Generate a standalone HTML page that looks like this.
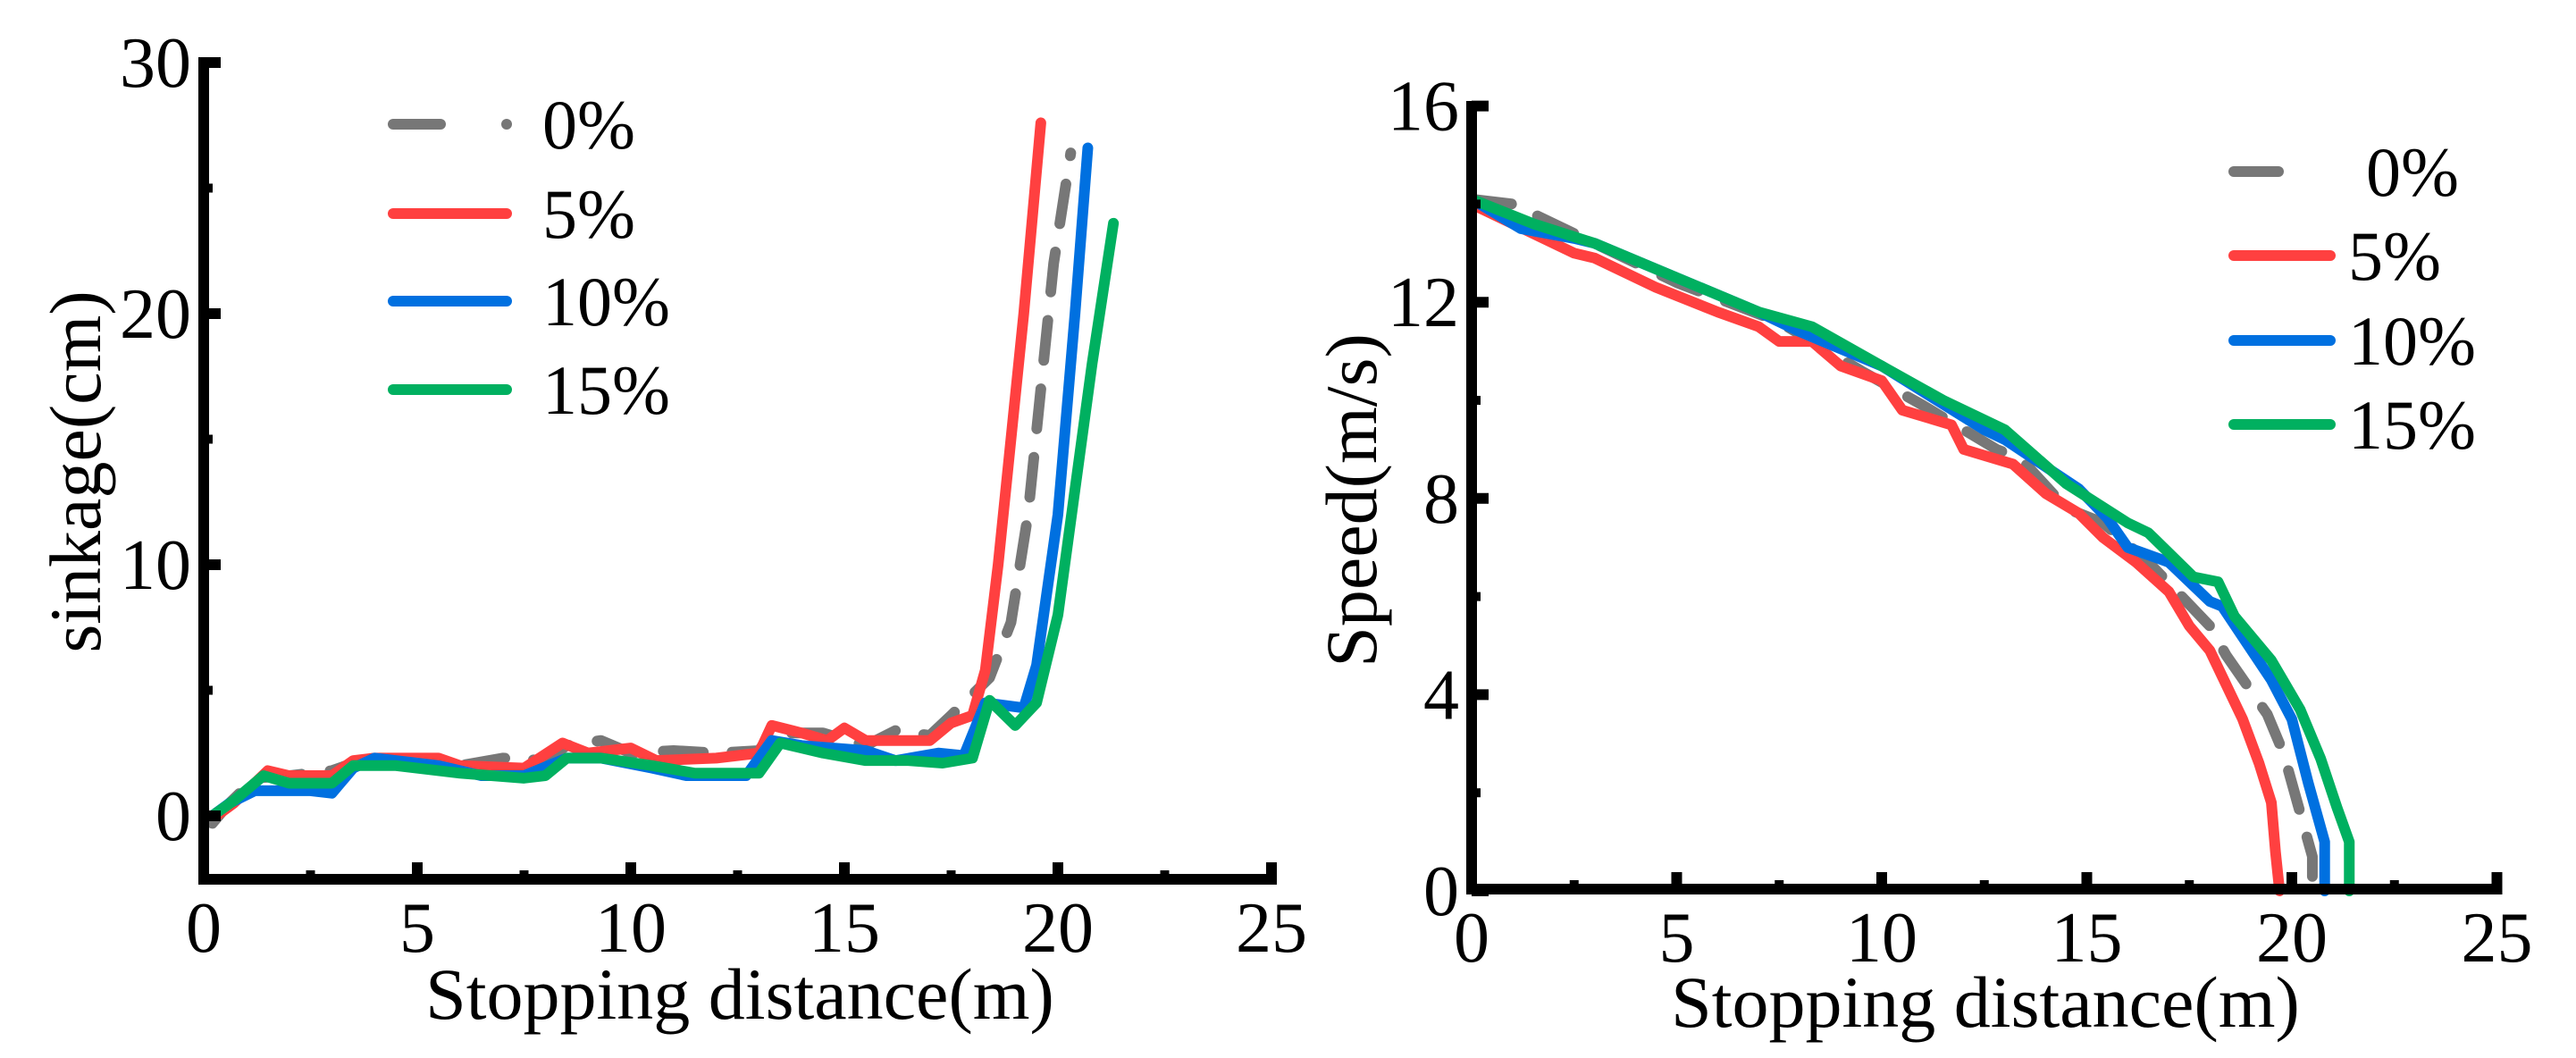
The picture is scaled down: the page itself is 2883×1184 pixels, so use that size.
<!DOCTYPE html>
<html><head><meta charset="utf-8"><style>
html,body{margin:0;padding:0;background:#fff;}
svg{display:block;}
svg text{font-family:"Liberation Serif","Noto Serif CJK SC","DejaVu Serif",serif;}
</style></head><body>
<svg id="fig" width="2883" height="1184" viewBox="0 0 2883 1184" xmlns="http://www.w3.org/2000/svg">
<g id="left"></g>
<g id="right"></g>
</svg>
<script>
const seriesNames = ["0%","5%","10%","15%"];
const seriesColors = ["#777777","#ff4040","#0070e0","#00b060"];
const xTicks = [0,5,10,15,20,25];
const sinkTicks = [0,10,20,30];
const speedTicks = [0,4,8,12,16];

const sinkX0 = [0.2,0.6,1.2,2,3,3.5,4,5,6,7,8,8.5,9.3,10,11,12,13,13.3,14.5,15.5,16.2,17,17.5,18.4,18.9,19.3,19.6,19.9,20.3];
const sinkY0 = [-0.3,0.5,1.5,1.6,1.8,2.1,2.3,2.1,2.0,2.3,2.2,2.8,3.0,2.5,2.6,2.5,2.6,3.3,3.3,2.8,3.4,3.2,4.0,5.5,7.7,12.0,17,22,26.4];
const sinkX5 = [0.3,0.7,1.5,2,3,3.5,4,5.5,6,7.5,8.4,9,10,10.6,12,13,13.3,14,14.6,15,15.5,17,17.5,18,18.3,18.6,19.2,19.6];
const sinkY5 = [0,0.5,1.8,1.6,1.6,2.2,2.3,2.3,2.0,1.9,2.9,2.5,2.7,2.2,2.3,2.5,3.6,3.3,3.0,3.5,3.0,3.0,3.7,4.0,5.8,10,20,27.6];
const sinkX10 = [0.2,0.6,1.2,2.5,3,3.5,4,5.5,6.5,7.5,8.5,9.3,10.5,11.3,12.7,13.3,14,15.5,16.2,17.2,17.8,18.3,19.2,19.5,20.0,20.4,20.7];
const sinkY10 = [0,0.5,1.0,1.0,0.9,1.9,2.3,2.0,1.6,1.6,2.3,2.3,1.9,1.6,1.6,3.0,2.8,2.6,2.2,2.5,2.4,4.5,4.3,6.0,12,20,26.6];
const sinkX15 = [0.2,0.7,1.4,2,3,3.5,4.5,6,7.5,8,8.5,9.3,10.5,11.5,13,13.5,14.5,15.5,16.5,17.3,18,18.4,19,19.5,20.0,20.4,20.8,21.3];
const sinkY15 = [0,0.6,1.6,1.3,1.3,2.0,2.0,1.7,1.5,1.6,2.3,2.3,2.0,1.7,1.7,2.9,2.5,2.2,2.2,2.1,2.3,4.6,3.6,4.5,8.0,13,18,23.6];

const spdX0 = [0,1,2.5,5,7.5,9.5,11,12.8,13.4,14.5,15.4,16.5,17.2,18,18.4,19.4,19.8,20.2,20.5,20.5];
const spdY0 = [14.1,14.0,13.4,12.4,11.6,10.6,9.9,9.0,8.8,7.8,7.5,6.7,6.1,5.4,4.8,3.6,2.8,1.6,0.7,0];
const spdX5 = [0,1,2.5,3,4.5,6,7,7.5,8.3,9,10,10.5,11.7,12,13.2,14,14.8,15.4,16.2,17,17.5,18,18.4,18.8,19.2,19.5,19.6,19.7];
const spdY5 = [14.0,13.6,13.0,12.9,12.3,11.8,11.5,11.2,11.2,10.7,10.4,9.8,9.5,9.0,8.7,8.1,7.7,7.2,6.7,6.1,5.4,4.9,4.2,3.5,2.6,1.8,0.8,0];
const spdX10 = [0,1.2,2.5,3,5,7,8,10,12.5,13,14.8,15.5,16,17,18,18.3,19.5,20,20.4,20.8,20.8];
const spdY10 = [14.1,13.5,13.3,13.2,12.5,11.8,11.4,10.7,9.4,9.2,8.2,7.6,7.0,6.7,5.9,5.8,4.3,3.5,2.2,1.0,0];
const spdX15 = [0,1.5,3,5,7,8.3,10,11.5,13,14.5,16,16.5,17.6,18.2,18.6,19.5,20.2,20.7,21.1,21.4,21.4];
const spdY15 = [14.1,13.6,13.2,12.5,11.8,11.5,10.7,10.0,9.4,8.3,7.5,7.3,6.4,6.3,5.6,4.7,3.7,2.7,1.7,1.0,0];

const NS="http://www.w3.org/2000/svg";
const FONT='"Liberation Serif","Noto Serif CJK SC","DejaVu Serif",serif';
function mk(parent,tag,attrs){const e=document.createElementNS(NS,tag);for(const k in attrs)e.setAttribute(k,attrs[k]);if(tag==='text')e.setAttribute('font-family',FONT);parent.appendChild(e);return e;}

function drawChart(g, cfg){
  const sx=v=>cfg.x0+v*cfg.xu, sy=v=>cfg.y0-v*cfg.yu;
  cfg.series.forEach((s,i)=>{
    const p=mk(g,'polyline',{points:s.x.map((v,j)=>sx(v)+','+sy(s.y[j])).join(' '),fill:'none',stroke:seriesColors[i],'stroke-width':12,'stroke-linejoin':'round','stroke-linecap':'round'});
    if(i===0){p.setAttribute('stroke-dasharray','45 32');}
    
    
  });
  const ya=mk(g,'line',{x1:cfg.x0,y1:cfg.yTop,x2:cfg.x0,y2:cfg.xAxisY+6,stroke:'#000','stroke-width':12});
  
  
  const xa=mk(g,'line',{x1:cfg.x0-6,y1:cfg.xAxisY,x2:sx(25)+6,y2:cfg.xAxisY,stroke:'#000','stroke-width':12});
  
  
  xTicks.forEach(t=>{
    if(t>0){const tk=mk(g,'line',{x1:sx(t),y1:cfg.xAxisY,x2:sx(t),y2:cfg.xAxisY-19,stroke:'#000','stroke-width':12});
      
      }
    if(t<25){const mt=mk(g,'line',{x1:sx(t+2.5),y1:cfg.xAxisY,x2:sx(t+2.5),y2:cfg.xAxisY-10,stroke:'#000','stroke-width':10});
      
      }
    const tl=mk(g,'text',{x:sx(t),y:cfg.xLabY,'font-size':80,'text-anchor':'middle'});tl.textContent=t;
    
    
  });
  cfg.yTicks.forEach((t,k)=>{
    const tk=mk(g,'line',{x1:cfg.x0,y1:sy(t),x2:cfg.x0+19,y2:sy(t),stroke:'#000','stroke-width':12});
    
    
    if(k<cfg.yTicks.length-1){const m=(t+cfg.yTicks[k+1])/2;
      const mt=mk(g,'line',{x1:cfg.x0,y1:sy(m),x2:cfg.x0+10,y2:sy(m),stroke:'#000','stroke-width':10});
      
      }
    const tl=mk(g,'text',{x:cfg.x0-14,y:sy(t)+27,'font-size':80,'text-anchor':'end'});tl.textContent=t;
    
    
  });
  const xt=mk(g,'text',{x:cfg.xTitleX,y:cfg.xTitleY,'font-size':82,'text-anchor':'middle'});xt.textContent='Stopping distance(m)';
  
  
  const yt=mk(g,'text',{x:0,y:0,'font-size':82,'text-anchor':'middle',transform:`translate(${cfg.yTitleX},${cfg.yTitleY}) rotate(-90)`});yt.textContent=cfg.yTitle;
  
  
  seriesNames.forEach((n,i)=>{
    const ly=cfg.legY[i];
    const lg=mk(g,'g',{});
    
    
    if(i===0){
      mk(lg,'line',{x1:cfg.legX1,y1:ly,x2:cfg.legDashEnd,y2:ly,stroke:seriesColors[0],'stroke-width':12,'stroke-linecap':'round'});
      if(cfg.legDot) mk(lg,'circle',{cx:cfg.legX2,cy:ly,r:6,fill:seriesColors[0]});
    } else {
      mk(lg,'line',{x1:cfg.legX1,y1:ly,x2:cfg.legX2,y2:ly,stroke:seriesColors[i],'stroke-width':12,'stroke-linecap':'round'});
    }
    const tx=mk(lg,'text',{x:cfg.legTX+(i===0?cfg.leg0Shift:0),y:ly+27,'font-size':78});tx.textContent=n;
  });
}

drawChart(document.getElementById('left'),{
  x0:228,xu:47.8,y0:913,yu:28.1,yTop:64,xAxisY:984,xLabY:1065,yTicks:sinkTicks,
  xTitleX:828,xTitleY:1140,yTitleX:112,yTitleY:528,yTitle:'sinkage(cm)',
  legX1:440,legX2:567,legDashEnd:493,legDot:true,legTX:607,leg0Shift:0,legY:[139,239,337,436],
  series:[{x:sinkX0,y:sinkY0},{x:sinkX5,y:sinkY5},{x:sinkX10,y:sinkY10},{x:sinkX15,y:sinkY15}]
});
drawChart(document.getElementById('right'),{
  x0:1647,xu:45.9,y0:997,yu:54.9,yTop:113,xAxisY:995,xLabY:1076,yTicks:speedTicks,
  xTitleX:2222,xTitleY:1149,yTitleX:1540,yTitleY:560,yTitle:'Speed(m/s)',
  legX1:2500,legX2:2608,legDashEnd:2550,legDot:false,legTX:2628,leg0Shift:20,legY:[192,286,381,475],
  series:[{x:spdX0,y:spdY0},{x:spdX5,y:spdY5},{x:spdX10,y:spdY10},{x:spdX15,y:spdY15}]
});
</script>
</body></html>
